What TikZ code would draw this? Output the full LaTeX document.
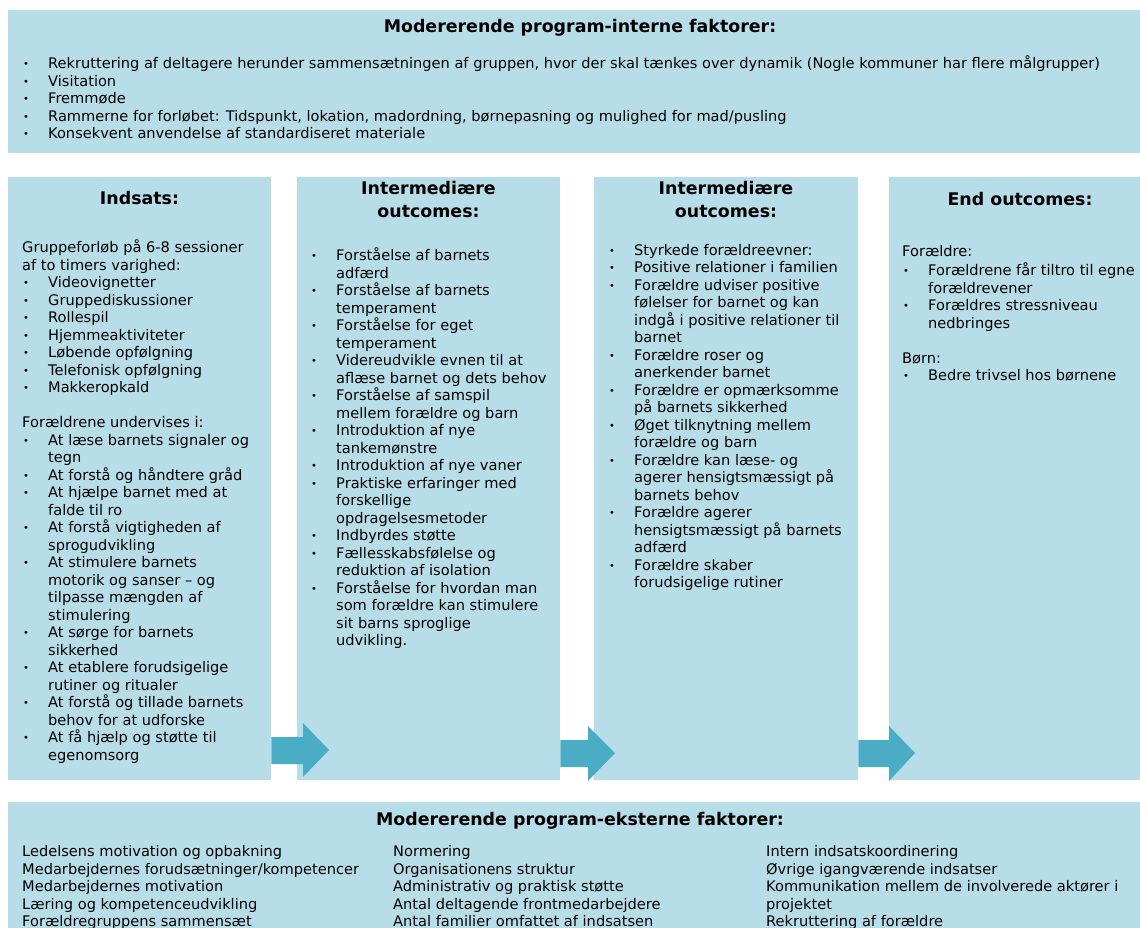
\documentclass[tikz,border=0pt]{standalone}
\usepackage{fontspec}
\setmainfont{DejaVu Sans}
\definecolor{boksblaa}{HTML}{B6DDE8}
\definecolor{pilblaa}{HTML}{4BACC6}
\newcommand{\pkt}{\makebox[26pt][l]{\hspace{1pt}\raisebox{1pt}{\fontsize{10}{10}\selectfont\textbullet}}}
\newcommand{\ind}{\hspace*{26pt}}
\tikzset{
  boks/.style={fill=boksblaa, inner sep=0pt, anchor=north west},
  titel/.style={font=\fontsize{17.4}{22.3}\selectfont\bfseries, align=center, inner sep=0pt, anchor=north},
  tekst/.style={font=\fontsize{14.6}{17.5}\selectfont, align=left, inner sep=0pt, anchor=north west},
  pil/.style={fill=pilblaa}
}
\begin{document}
\begin{tikzpicture}[x=1pt,y=-1pt]
                    \useasboundingbox (0,0) rectangle (1140,927);
                    \node[boks, minimum width=1144pt, minimum height=143pt] (intern) at (8,10) {};
                    \node[boks, minimum width=263pt, minimum height=603pt] (indsats) at (8,177) {};
                    \node[boks, minimum width=263pt, minimum height=603pt] (mellem1) at (297,177) {};
                    \node[boks, minimum width=264pt, minimum height=603pt] (mellem2) at (594,177) {};
                    \node[boks, minimum width=263pt, minimum height=603pt] (slut) at (889,177) {};
                    \node[boks, minimum width=1144pt, minimum height=140pt] (ekstern) at (8,802) {};
                    \fill[pil] (indsats.east |- 0,737) -- (303,737) -- (303,723) -- (329,750) -- (303,777) -- (303,764) -- (indsats.east |- 0,764) -- cycle;
                    \fill[pil] (mellem1.east |- 0,740) -- (588,740) -- (588,726) -- (615,753) -- (588,781) -- (588,767) -- (mellem1.east |- 0,767) -- cycle;
                    \fill[pil] (mellem2.east |- 0,740) -- (889,740) -- (889,726) -- (915,753) -- (889,781) -- (889,767) -- (mellem2.east |- 0,767) -- cycle;
                    \node[titel] (interntitel) at (580,16.7) {\strut Modererende program-interne faktorer:};
                    \node[tekst] (internliste) at (22,55.75) {\strut\pkt Rekruttering af deltagere herunder sammensætningen af gruppen, hvor der skal tænkes over dynamik (Nogle kommuner har flere målgrupper)\\
                      \pkt Visitation\\
                      \pkt Fremmøde\\
                      \pkt Rammerne for forløbet: Tidspunkt, lokation, madordning, børnepasning og mulighed for mad/pusling\\
                      \pkt Konsekvent anvendelse af standardiseret materiale};
                    \node[titel] (indsatstitel) at (139.5,188.9) {\strut Indsats:};
                    \node[tekst] (indsatsliste) at (22,239.75) {\strut Gruppeforløb på 6-8 sessioner\\
                      af to timers varighed:\\
                      \pkt Videovignetter\\
                      \pkt Gruppediskussioner\\
                      \pkt Rollespil\\
                      \pkt Hjemmeaktiviteter\\
                      \pkt Løbende opfølgning\\
                      \pkt Telefonisk opfølgning\\
                      \pkt Makkeropkald\\[17.5pt]
                      Forældrene undervises i:\\
                      \pkt At læse barnets signaler og\\
                      \ind tegn\\
                      \pkt At forstå og håndtere gråd\\
                      \pkt At hjælpe barnet med at\\
                      \ind falde til ro\\
                      \pkt At forstå vigtigheden af\\
                      \ind sprogudvikling\\
                      \pkt At stimulere barnets\\
                      \ind motorik og sanser – og\\
                      \ind tilpasse mængden af\\
                      \ind stimulering\\
                      \pkt At sørge for barnets\\
                      \ind sikkerhed\\
                      \pkt At etablere forudsigelige\\
                      \ind rutiner og ritualer\\
                      \pkt At forstå og tillade barnets\\
                      \ind behov for at udforske\\
                      \pkt At få hjælp og støtte til\\
                      \ind egenomsorg};
                    \node[titel] (mellem1titel) at (428.5,179) {\strut Intermediære\\outcomes:};
                    \node[tekst] (mellem1liste) at (310,247.75) {\strut\pkt Forståelse af barnets\\
                      \ind adfærd\\
                      \pkt Forståelse af barnets\\
                      \ind temperament\\
                      \pkt Forståelse for eget\\
                      \ind temperament\\
                      \pkt Videreudvikle evnen til at\\
                      \ind aflæse barnet og dets behov\\
                      \pkt Forståelse af samspil\\
                      \ind mellem forældre og barn\\
                      \pkt Introduktion af nye\\
                      \ind tankemønstre\\
                      \pkt Introduktion af nye vaner\\
                      \pkt Praktiske erfaringer med\\
                      \ind forskellige\\
                      \ind opdragelsesmetoder\\
                      \pkt Indbyrdes støtte\\
                      \pkt Fællesskabsfølelse og\\
                      \ind reduktion af isolation\\
                      \pkt Forståelse for hvordan man\\
                      \ind som forældre kan stimulere\\
                      \ind sit barns sproglige\\
                      \ind udvikling.};
                    \node[titel] (mellem2titel) at (726,179) {\strut Intermediære\\outcomes:};
                    \node[tekst] (mellem2liste) at (608,242.75) {\strut\pkt Styrkede forældreevner:\\
                      \pkt Positive relationer i familien\\
                      \pkt Forældre udviser positive\\
                      \ind følelser for barnet og kan\\
                      \ind indgå i positive relationer til\\
                      \ind barnet\\
                      \pkt Forældre roser og\\
                      \ind anerkender barnet\\
                      \pkt Forældre er opmærksomme\\
                      \ind på barnets sikkerhed\\
                      \pkt Øget tilknytning mellem\\
                      \ind forældre og barn\\
                      \pkt Forældre kan læse- og\\
                      \ind agerer hensigtsmæssigt på\\
                      \ind barnets behov\\
                      \pkt Forældre agerer\\
                      \ind hensigtsmæssigt på barnets\\
                      \ind adfærd\\
                      \pkt Forældre skaber\\
                      \ind forudsigelige rutiner};
                    \node[titel] (sluttitel) at (1020,189.9) {\strut End outcomes:};
                    \node[tekst] (slutliste) at (902,244.25) {\strut Forældre:\\
                      \pkt Forældrene får tiltro til egne\\
                      \ind forældrevener\\
                      \pkt Forældres stressniveau\\
                      \ind nedbringes\\[17.5pt]
                      Børn:\\
                      \pkt Bedre trivsel hos børnene};
                    \node[titel] (eksterntitel) at (580,810) {\strut Modererende program-eksterne faktorer:};
                    \node[tekst] (ekstern1) at (22,844.25) {\strut Ledelsens motivation og opbakning\\
                      Medarbejdernes forudsætninger/kompetencer\\
                      Medarbejdernes motivation\\
                      Læring og kompetenceudvikling\\
                      Forældregruppens sammensæt};
                    \node[tekst] (ekstern2) at (393,844.25) {\strut Normering\\
                      Organisationens struktur\\
                      Administrativ og praktisk støtte\\
                      Antal deltagende frontmedarbejdere\\
                      Antal familier omfattet af indsatsen};
                    \node[tekst] (ekstern3) at (766,844.25) {\strut Intern indsatskoordinering\\
                      Øvrige igangværende indsatser\\
                      Kommunikation mellem de involverede aktører i\\
                      projektet\\
                      Rekruttering af forældre};
                \end{tikzpicture}
\end{document}
